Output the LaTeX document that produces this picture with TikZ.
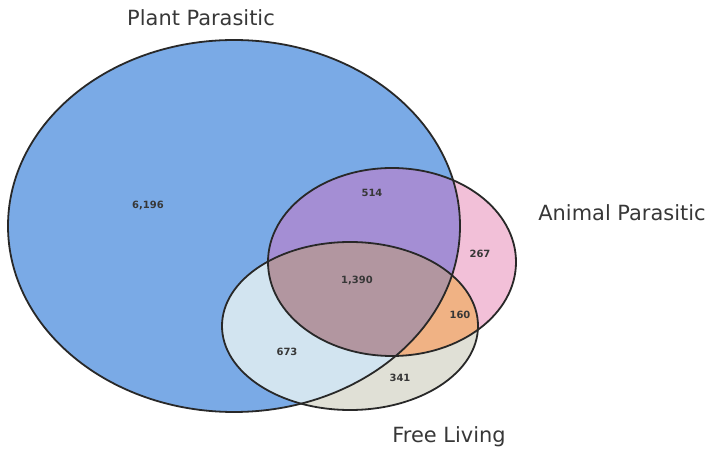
\documentclass[tikz,border=0pt]{standalone}
\usepackage{fontspec}
\setmainfont{DejaVu Sans}
\newfontfamily\numfont{DejaVu Sans}
\definecolor{cBlue}{RGB}{122,170,230}
\definecolor{cPink}{RGB}{242,192,216}
\definecolor{cFree}{RGB}{224,224,214}
\definecolor{cBP}{RGB}{164,142,212}
\definecolor{cBF}{RGB}{210,228,240}
\definecolor{cPF}{RGB}{240,178,132}
\definecolor{cAll}{RGB}{178,150,160}
\definecolor{cLine}{RGB}{40,40,40}
\definecolor{cText}{RGB}{55,55,55}
\tikzset{
  outline/.style={draw=cLine, line width=1.8bp},
  setlabel/.style={font=\fontsize{21}{24}\selectfont, text=cText},
  count/.style={font=\numfont\fontsize{10}{12}\selectfont\bfseries, text=cText}
}
\def\blueE{(234,226) ellipse [x radius=226, y radius=186]}
\def\pinkE{(392,262) ellipse [x radius=124, y radius=94]}
\def\freeE{(350,326) ellipse [x radius=128, y radius=84]}
\begin{document}
\begin{tikzpicture}[x=1bp, y=-1bp]
\useasboundingbox (0,0) rectangle (721,455);
\fill[white] (0,0) rectangle (721,455);
% base fills
\fill[cBlue] \blueE;
\fill[cPink] \pinkE;
\fill[cFree] \freeE;
\begin{scope}
  \clip \blueE;
  \fill[cBP] \pinkE;
  \fill[cBF] \freeE;
\end{scope}
\begin{scope}
  \clip \pinkE;
  \fill[cPF] \freeE;
  \clip \blueE;
  \fill[cAll] \freeE;
\end{scope}
% outlines
\draw[outline] \blueE;
\draw[outline] \pinkE;
\draw[outline] \freeE;
% set labels
\node[setlabel] (lplant) at (201,18) {Plant Parasitic};
\node[setlabel] (lanimal) at (622,213) {Animal Parasitic};
\node[setlabel] (lfree) at (449,437) {Free Living};
% counts
\node[count] (n6196) at (148,206) {6,196};
\node[count] (n514) at (372,193) {514};
\node[count] (n267) at (480,254) {267};
\node[count] (n1390) at (357,281) {1,390};
\node[count] (n160) at (460,315) {160};
\node[count] (n673) at (287,352) {673};
\node[count] (n341) at (400,378) {341};
\end{tikzpicture}
\end{document}
